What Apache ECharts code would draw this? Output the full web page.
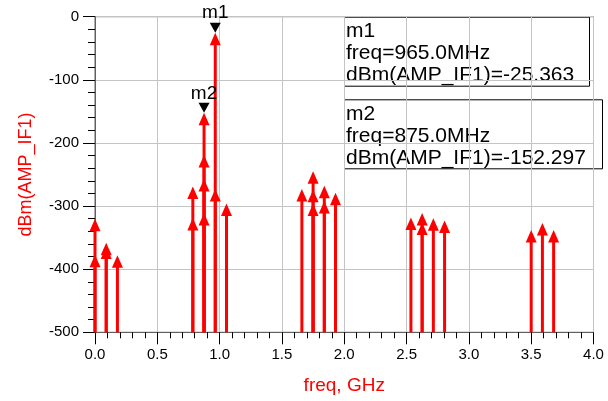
<!DOCTYPE html>
<html>
<head>
<meta charset="utf-8">
<script src="https://cdn.jsdelivr.net/npm/echarts@6/dist/echarts.min.js"></script>
<style>
html,body{margin:0;padding:0;background:#fff;}
#chart{width:608px;height:401px;}
</style>
</head>
<body>
<div id="chart"></div>
<script>
// Spectrum lines: frequency (GHz) and level (dBm); repeated frequencies carry several levels
const freqs  = [0.0, 0.0, 0.09, 0.09, 0.18, 0.785, 0.785, 0.875, 0.875, 0.875, 0.875, 0.965, 0.965, 1.055,
                1.66, 1.75, 1.75, 1.75, 1.84, 1.84, 1.93,
                2.535, 2.625, 2.625, 2.715, 2.805, 3.5, 3.59, 3.68];
const levels = [-320, -377, -358, -364, -378, -269, -319, -152.297, -219, -257, -311, -25.363, -273, -296,
                -273, -245, -274, -296, -268, -292, -279,
                -318, -311, -326, -319.5, -323, -338, -327, -338];

// Markers
const markerNames  = ['m1', 'm2'];
const markerFreqMHz = [965.0, 875.0];
const markerLevels = [-25.363, -152.297];

// Axes
const xTicks = [0, 4, 0.5];
const yTicks = [-500, 0, 100];
const xName = 'freq, GHz';
const yName = 'dBm(AMP_IF1)';
const traceName = 'dBm(AMP_IF1)';

const chart = echarts.init(document.getElementById('chart'), null, {renderer: 'canvas'});

const stemData = freqs.map((f, i) => [f, levels[i]]);
const markerData = markerNames.map((n, i) => [markerFreqMHz[i] / 1000, markerLevels[i], n]);

const FONT = '"Liberation Sans", Arial, sans-serif';

function readout(i, top, width) {
  const txt = markerNames[i] + '\nfreq=' + markerFreqMHz[i].toFixed(1) + 'MHz\n' +
              traceName + '=' + markerLevels[i].toFixed(3);
  return {
    type: 'group', left: 344, top: top, z: 100,
    children: [
      {type: 'rect', shape: {x: 0, y: 0, width: width, height: 69},
       style: {fill: '#fff', stroke: '#000', lineWidth: 1}},
      {type: 'text', x: 1.5, y: 3,
       style: {text: txt, font: '21px ' + FONT, fill: '#000', lineHeight: 22}}
    ]
  };
}

chart.setOption({
  animation: false,
  backgroundColor: '#fff',
  grid: {left: 95, right: 14.5, top: 16.7, bottom: 68.7, show: true,
         borderColor: '#606060', borderWidth: 1},
  xAxis: {
    type: 'value', min: xTicks[0], max: xTicks[1], interval: xTicks[2],
    name: xName, nameLocation: 'middle', nameGap: 44,
    nameTextStyle: {color: '#ff0000', fontSize: 19, fontFamily: FONT},
    axisLine: {show: true, onZero: false, lineStyle: {color: '#606060', width: 1}},
    axisTick: {show: true, inside: false, length: 12, lineStyle: {color: '#000'}},
    minorTick: {show: true, splitNumber: 5, length: 6, lineStyle: {color: '#000'}},
    axisLabel: {formatter: v => v.toFixed(1), color: '#000', fontSize: 15, fontFamily: FONT, margin: 15},
    splitLine: {show: true, lineStyle: {color: '#c4c4c4', width: 1}}
  },
  yAxis: {
    type: 'value', min: yTicks[0], max: yTicks[1], interval: yTicks[2],
    name: yName, nameLocation: 'middle', nameGap: 60, nameRotate: 90,
    nameTextStyle: {color: '#ff0000', fontSize: 18, fontFamily: FONT},
    axisLine: {show: true, onZero: false, lineStyle: {color: '#606060', width: 1}},
    axisTick: {show: true, inside: false, length: 12, lineStyle: {color: '#000'}},
    minorTick: {show: true, splitNumber: 5, length: 7, lineStyle: {color: '#000'}},
    axisLabel: {color: '#000', fontSize: 15, fontFamily: FONT, margin: 16},
    splitLine: {show: true, lineStyle: {color: '#c4c4c4', width: 1}}
  },
  series: [
    {
      type: 'custom', name: 'spectrum', clip: false, z: 10,
      data: stemData,
      renderItem: function (params, api) {
        const base = api.coord([api.value(0), yTicks[0]]);
        const tip = api.coord([api.value(0), api.value(1)]);
        const hw = 5.5, hh = 12.5;
        return {type: 'group', children: [
          {type: 'line', shape: {x1: base[0], y1: base[1], x2: tip[0], y2: tip[1] + hh - 1},
           style: {stroke: '#ff0000', lineWidth: 3}},
          {type: 'polygon', shape: {points: [[tip[0], tip[1]], [tip[0] - hw, tip[1] + hh], [tip[0] + hw, tip[1] + hh]]},
           style: {fill: '#ff0000'}}
        ]};
      }
    },
    {
      type: 'custom', name: 'markers', clip: false, z: 20,
      data: markerData,
      renderItem: function (params, api) {
        const p = api.coord([api.value(0), api.value(1)]);
        const hw = 5.5, hh = 10;
        return {type: 'group', children: [
          {type: 'polygon', shape: {points: [[p[0], p[1]], [p[0] - hw, p[1] - hh], [p[0] + hw, p[1] - hh]]},
           style: {fill: '#000'}},
          {type: 'text', x: p[0], y: p[1] - hh,
           style: {text: markerData[params.dataIndex][2], font: '19px ' + FONT, fill: '#000',
                   align: 'center', verticalAlign: 'bottom'}}
        ]};
      }
    }
  ],
  graphic: [readout(0, 16.7, 245), readout(1, 99.3, 258)]
});
</script>
</body>
</html>
